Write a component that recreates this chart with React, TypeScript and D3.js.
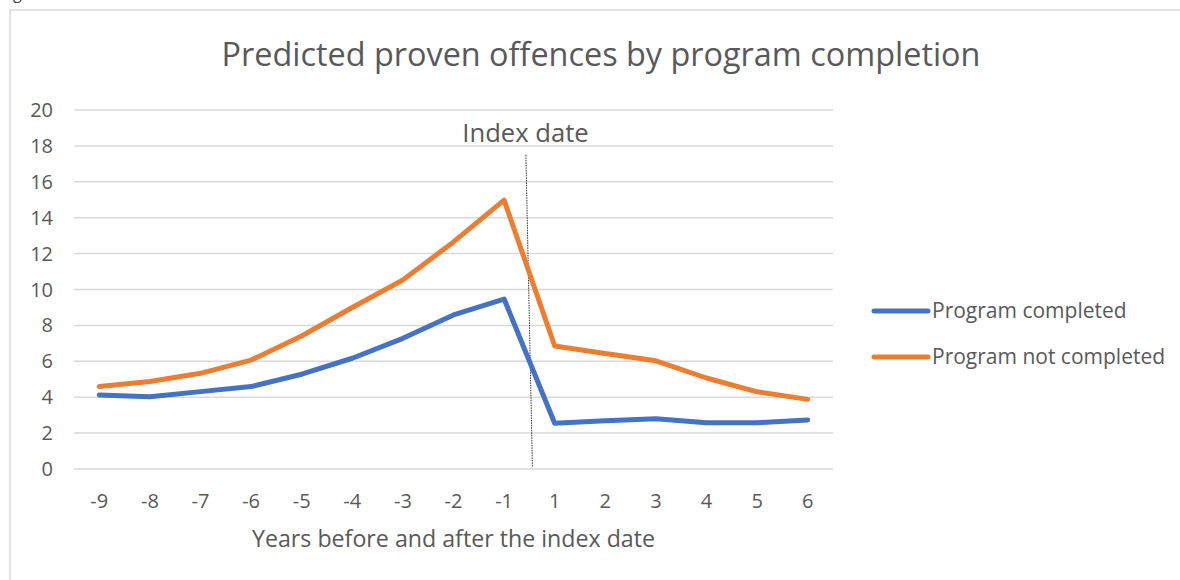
import React from "react";
import * as d3 from "d3";

const categories = ["-9", "-8", "-7", "-6", "-5", "-4", "-3", "-2", "-1", "1", "2", "3", "4", "5", "6"];
const completed = [4.12, 4.03, 4.31, 4.59, 5.28, 6.17, 7.28, 8.58, 9.47, 2.55, 2.69, 2.8, 2.58, 2.58, 2.73];
const notCompleted = [4.59, 4.87, 5.33, 6.07, 7.41, 9.0, 10.53, 12.65, 14.98, 6.85, 6.44, 6.03, 5.07, 4.3, 3.88];
const yTicks = [0, 2, 4, 6, 8, 10, 12, 14, 16, 18, 20];
const seriesNames = ["Program completed", "Program not completed"];
const seriesColors = ["#4472C4", "#ED7D31"];
const titleText = "Predicted proven offences by program completion";
const xTitle = "Years before and after the index date";
const indexLabel = "Index date";

const W = 1180;
const H = 580;
const FONT = "'Open Sans', 'DejaVu Sans', sans-serif";
const TEXT = "#595959";

export default function App() {
  const x = d3.scaleBand<string>().domain(categories).range([74, 833]).padding(0);
  const y = d3.scaleLinear().domain([0, 20]).range([469, 110]);
  const cx = (c: string) => (x(c) as number) + x.bandwidth() / 2;
  const line = d3
    .line<number>()
    .x((_, i) => cx(categories[i]))
    .y((d) => y(d));
  const series = [completed, notCompleted];
  const boundary = x("1") as number;

  return (
    <svg
      width={W}
      height={H}
      style={{ position: "fixed", left: 0, top: 0, background: "#fff" }}
      fontFamily={FONT}
    >
      <rect x={0} y={0} width={W} height={H} fill="#fff" />
      <text x={13} y={-1} fontSize={16} fill="#444">g</text>
      <rect x={10} y={10} width={W + 10} height={H + 10} fill="none" stroke="#d9d9d9" strokeWidth={1.5} />
      <text x={601} y={66} textAnchor="middle" fontSize={32.4} fill={TEXT}>{titleText}</text>
      {yTicks.map((t) => (
        <g key={t}>
          <line x1={74} x2={833} y1={y(t)} y2={y(t)} stroke="#d9d9d9" strokeWidth={1.5} />
          <text x={53} y={y(t)} dy="0.35em" textAnchor="end" fontSize={20} fill={TEXT}>{t}</text>
        </g>
      ))}
      {categories.map((c) => (
        <text key={c} x={cx(c)} y={508} textAnchor="middle" fontSize={20} fill={TEXT}>{c}</text>
      ))}
      <text x={453.5} y={547} textAnchor="middle" fontSize={23.2} fill={TEXT}>{xTitle}</text>
      <line
        x1={boundary - 3.5}
        y1={y(17.5)}
        x2={boundary + 3}
        y2={y(0.15)}
        stroke="#333"
        strokeWidth={1}
        strokeDasharray="1.5 1"
      />
      <text x={525.5} y={142} textAnchor="middle" fontSize={25.6} fill={TEXT}>{indexLabel}</text>
      {series.map((s, i) => (
        <path
          key={i}
          d={line(s) as string}
          fill="none"
          stroke={seriesColors[i]}
          strokeWidth={5}
          strokeLinecap="round"
          strokeLinejoin="round"
        />
      ))}
      {seriesNames.map((n, i) => (
        <g key={n}>
          <line x1={874} x2={928} y1={311 + i * 46} y2={311 + i * 46} stroke={seriesColors[i]} strokeWidth={5} strokeLinecap="round" />
          <text x={932} y={311 + i * 46} dy="0.35em" fontSize={21} fill={TEXT}>{n}</text>
        </g>
      ))}
    </svg>
  );
}
